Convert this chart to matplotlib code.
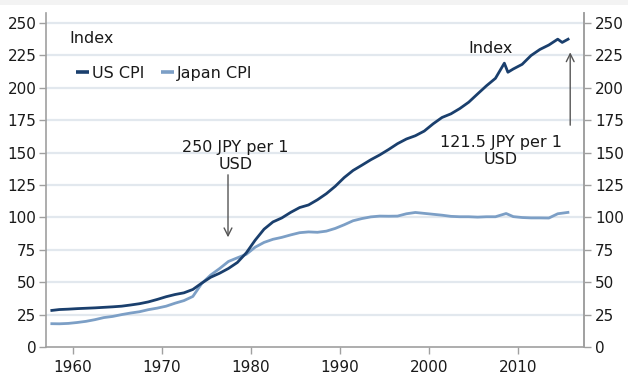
import matplotlib
matplotlib.use("Agg")
import matplotlib.pyplot as plt
from matplotlib.patches import Rectangle

# ---- data ----
us_years = [1957.5, 1958.5, 1959.5, 1960.5, 1961.5, 1962.5, 1963.5, 1964.5, 1965.5, 1966.5,
            1967.5, 1968.5, 1969.5, 1970.5, 1971.5, 1972.5, 1973.5, 1974.5, 1975.5, 1976.5,
            1977.5, 1978.5, 1979.5, 1980.5, 1981.5, 1982.5, 1983.5, 1984.5, 1985.5, 1986.5,
            1987.5, 1988.5, 1989.5, 1990.5, 1991.5, 1992.5, 1993.5, 1994.5, 1995.5, 1996.5,
            1997.5, 1998.5, 1999.5, 2000.5, 2001.5, 2002.5, 2003.5, 2004.5, 2005.5, 2006.5,
            2007.5, 2008.5, 2008.9, 2009.5, 2010.5, 2011.5, 2012.5, 2013.5, 2014.5, 2015.0, 2015.8]
us_cpi = [28.1, 28.9, 29.2, 29.6, 29.9, 30.2, 30.6, 31.0, 31.5, 32.4,
          33.4, 34.8, 36.7, 38.8, 40.5, 41.8, 44.4, 49.3, 53.8, 56.9,
          60.6, 65.2, 72.6, 82.4, 90.9, 96.5, 99.6, 103.9, 107.6, 109.6,
          113.6, 118.3, 124.0, 130.7, 136.2, 140.3, 144.5, 148.2, 152.4, 156.9,
          160.5, 163.0, 166.6, 172.2, 177.1, 179.9, 184.0, 188.9, 195.3, 201.6,
          207.3, 219.0, 212.0, 214.5, 218.1, 224.9, 229.6, 233.0, 237.5, 235.0, 238.0]

jp_years = [1957.5, 1958.5, 1959.5, 1960.5, 1961.5, 1962.5, 1963.5, 1964.5, 1965.5, 1966.5,
            1967.5, 1968.5, 1969.5, 1970.5, 1971.5, 1972.5, 1973.5, 1974.5, 1975.5, 1976.5,
            1977.5, 1978.5, 1979.5, 1980.5, 1981.5, 1982.5, 1983.5, 1984.5, 1985.5, 1986.5,
            1987.5, 1988.5, 1989.5, 1990.5, 1991.5, 1992.5, 1993.5, 1994.5, 1995.5, 1996.5,
            1997.5, 1998.5, 1999.5, 2000.5, 2001.5, 2002.5, 2003.5, 2004.5, 2005.5, 2006.5,
            2007.5, 2008.7, 2009.5, 2010.5, 2011.5, 2012.5, 2013.5, 2014.5, 2015.8]
jp_cpi = [18.0, 17.9, 18.2, 18.9, 19.8, 21.1, 22.7, 23.6, 25.0, 26.2,
          27.2, 28.8, 30.0, 31.5, 33.8, 35.8, 39.0, 49.0, 55.5, 60.5,
          66.0, 68.8, 71.5, 77.0, 80.7, 83.1, 84.6, 86.5, 88.2, 88.8,
          88.5, 89.4, 91.5, 94.3, 97.4, 99.1, 100.4, 101.0, 100.9, 101.0,
          102.8, 103.8, 103.1, 102.4, 101.7, 100.8, 100.5, 100.5, 100.2, 100.5,
          100.5, 103.0, 100.6, 99.9, 99.6, 99.6, 99.5, 102.8, 104.0]

y_ticks = [0, 25, 50, 75, 100, 125, 150, 175, 200, 225, 250]
x_ticks = [1960, 1970, 1980, 1990, 2000, 2010]

US_COLOR = "#1a3f6d"
JP_COLOR = "#7c9fc6"
GRID = "#e2e8ee"
SPINE = "#a0a0a0"
TXT = "#1a1a1a"
FS = 11       # tick labels
FT = 11.5     # other text

plt.rcParams['font.family'] = ['DejaVu Sans']
plt.rcParams['font.size'] = FS

fig = plt.figure(figsize=(6.28, 3.78), dpi=100)
fig.patches.append(Rectangle((0, 1 - 5 / 378), 1, 5 / 378, transform=fig.transFigure,
                             facecolor="#f3f3f3", edgecolor="none", zorder=0))
ax = fig.add_axes([46 / 628, 1 - 347 / 378, (584 - 46) / 628, (347 - 13) / 378])
ax.set_xlim(1957.0, 2017.45)
ax.set_ylim(0, 257.7)

for yv in y_ticks[1:]:
    ax.axhline(yv, color=GRID, lw=1.6, zorder=1)

ax.plot(jp_years, jp_cpi, color=JP_COLOR, lw=2.0, label="Japan CPI", zorder=3,
        solid_capstyle="butt")
ax.plot(us_years, us_cpi, color=US_COLOR, lw=2.0, label="US CPI", zorder=4,
        solid_capstyle="butt")

ax.set_yticks(y_ticks)
ax.set_xticks(x_ticks)
ax.tick_params(axis="both", colors=SPINE, labelcolor=TXT, length=5, width=1, labelsize=FS)
ax.tick_params(axis="y", pad=2)
ax.tick_params(axis="x", pad=4)
ax.spines["top"].set_visible(False)
for s in ["left", "bottom", "right"]:
    ax.spines[s].set_color(SPINE)
    ax.spines[s].set_linewidth(1.2)

ax2 = ax.twinx()
ax2.set_ylim(ax.get_ylim())
ax2.set_yticks(y_ticks)
ax2.tick_params(axis="y", colors=SPINE, labelcolor=TXT, length=5, width=1, labelsize=FS, pad=3)
for s in ["top", "left", "bottom"]:
    ax2.spines[s].set_visible(False)
ax2.spines["right"].set_color(SPINE)
ax2.spines["right"].set_linewidth(1.2)

handles, labels = ax.get_legend_handles_labels()
order = [1, 0]
leg = ax.legend([handles[i] for i in order], [labels[i] for i in order],
                loc="center left", bbox_to_anchor=(0.0558, 0.820), ncol=2, frameon=False,
                borderaxespad=0, borderpad=0,
                handlelength=0.8, handletextpad=0.2, columnspacing=1.06, fontsize=FT)
for t in leg.get_texts():
    t.set_color(TXT)
for h in leg.get_lines():
    h.set_linewidth(2.6)

ax.text(0.043, 0.924, "Index", transform=ax.transAxes, ha="left", va="center",
        color=TXT, fontsize=FT)

ax.annotate("", xy=(1977.45, 82.5), xytext=(1977.45, 135),
            arrowprops=dict(arrowstyle="->", color="#555555", lw=1.0, mutation_scale=14))
ax.text(1978.3, 147.4, "250 JPY per 1\nUSD", ha="center", va="center", color=TXT,
        fontsize=FT, linespacing=1.15)

ax.annotate("", xy=(2015.9, 229.5), xytext=(2015.9, 169),
            arrowprops=dict(arrowstyle="->", color="#555555", lw=1.0, mutation_scale=14))
ax.text(2008.1, 151.5, "121.5 JPY per 1\nUSD", ha="center", va="center", color=TXT,
        fontsize=FT, linespacing=1.15)
ax.text(2007.0, 230, "Index", ha="center", va="center", color=TXT, fontsize=FT)

fig.savefig("out.png", dpi=100)
